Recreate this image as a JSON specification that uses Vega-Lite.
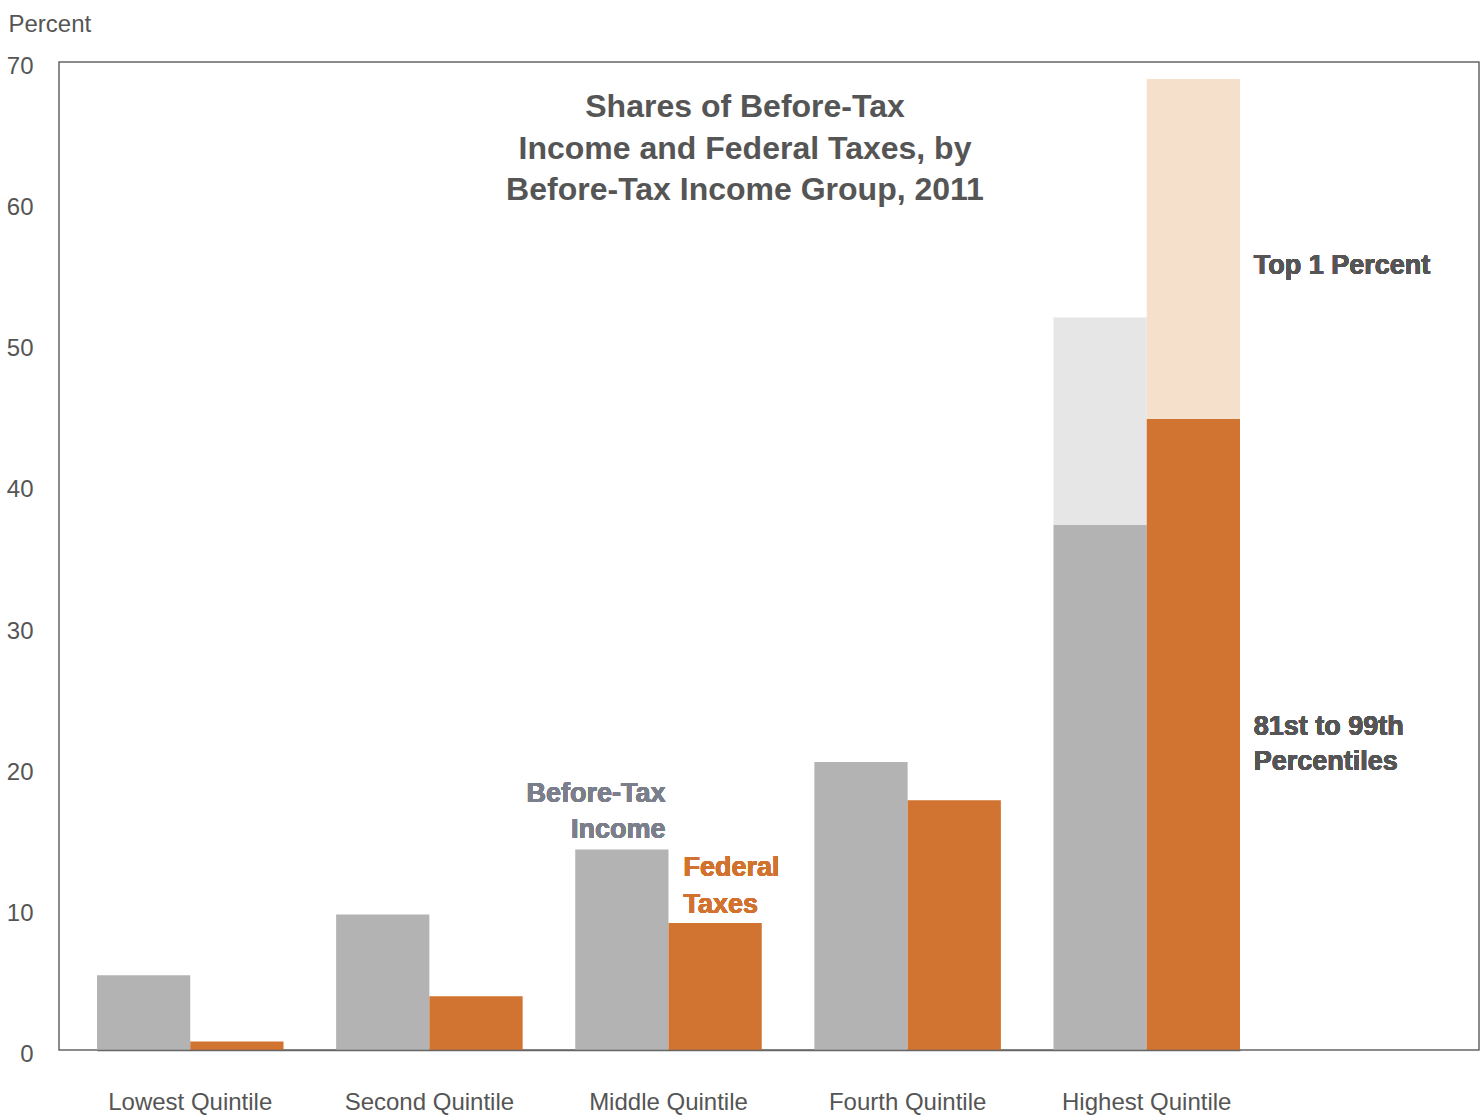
{
  "$schema": "https://vega.github.io/schema/vega-lite/v6.json",
  "width": 1420,
  "height": 988,
  "autosize": {"type": "none"},
  "padding": {"left": 59, "top": 62, "right": 4, "bottom": 67},
  "background": "white",
  "title": {
    "text": ["Shares of Before-Tax", "Income and Federal Taxes, by", "Before-Tax Income Group, 2011"],
    "orient": "top",
    "anchor": "middle",
    "frame": "group",
    "offset": -195,
    "dx": -24,
    "font": "Liberation Sans",
    "fontSize": 32,
    "fontWeight": "bold",
    "color": "#555555",
    "lineHeight": 41.5
  },
  "data": {
    "values": [
      {"group": "Lowest Quintile", "measure": "Before-Tax Income", "part": "Quintile", "series": "Income", "share": 5.3},
      {"group": "Lowest Quintile", "measure": "Federal Taxes", "part": "Quintile", "series": "Taxes", "share": 0.6},
      {"group": "Second Quintile", "measure": "Before-Tax Income", "part": "Quintile", "series": "Income", "share": 9.6},
      {"group": "Second Quintile", "measure": "Federal Taxes", "part": "Quintile", "series": "Taxes", "share": 3.8},
      {"group": "Middle Quintile", "measure": "Before-Tax Income", "part": "Quintile", "series": "Income", "share": 14.2},
      {"group": "Middle Quintile", "measure": "Federal Taxes", "part": "Quintile", "series": "Taxes", "share": 9.0},
      {"group": "Fourth Quintile", "measure": "Before-Tax Income", "part": "Quintile", "series": "Income", "share": 20.4},
      {"group": "Fourth Quintile", "measure": "Federal Taxes", "part": "Quintile", "series": "Taxes", "share": 17.7},
      {"group": "Highest Quintile", "measure": "Before-Tax Income", "part": "81st to 99th Percentiles", "series": "Income", "share": 37.2},
      {"group": "Highest Quintile", "measure": "Before-Tax Income", "part": "Top 1 Percent", "series": "Income, Top 1 Percent", "share": 14.7},
      {"group": "Highest Quintile", "measure": "Federal Taxes", "part": "81st to 99th Percentiles", "series": "Taxes", "share": 44.7},
      {"group": "Highest Quintile", "measure": "Federal Taxes", "part": "Top 1 Percent", "series": "Taxes, Top 1 Percent", "share": 24.1}
    ]
  },
  "config": {
    "view": {"stroke": "#666666", "strokeWidth": 1.5},
    "font": "Liberation Sans"
  },
  "layer": [
    {
      "mark": {"type": "bar"},
      "encoding": {
        "x": {
          "field": "group",
          "type": "nominal",
          "scale": {
            "domain": ["Lowest Quintile", "Second Quintile", "Middle Quintile", "Fourth Quintile", "Highest Quintile"],
            "range": [38, 1181],
            "paddingInner": 0.22,
            "paddingOuter": 0
          },
          "axis": {
            "title": null,
            "labelAngle": 0,
            "labelFontSize": 24,
            "labelFont": "Liberation Sans",
            "labelColor": "#555555",
            "labelPadding": 40,
            "ticks": false,
            "tickSize": 0,
            "domain": true,
            "domainColor": "#666666",
            "domainWidth": 1.5,
            "zindex": 1
          }
        },
        "xOffset": {
          "field": "measure",
          "type": "nominal",
          "scale": {"domain": ["Before-Tax Income", "Federal Taxes"], "paddingInner": 0, "paddingOuter": 0}
        },
        "y": {
          "field": "share",
          "type": "quantitative",
          "stack": "zero",
          "scale": {"domain": [0, 70], "nice": false},
          "axis": {
            "values": [0, 10, 20, 30, 40, 50, 60, 70],
            "grid": false,
            "ticks": false,
            "tickSize": 0,
            "domain": false,
            "labelFontSize": 24,
            "labelFont": "Liberation Sans",
            "labelColor": "#555555",
            "labelPadding": 26,
            "labelAlign": "right",
            "labelBaseline": "middle",
            "labelOffset": 4.5,
            "labelFlush": false,
            "labelOverlap": false,
            "title": "Percent",
            "titleAngle": 0,
            "titleAlign": "left",
            "titleBaseline": "alphabetic",
            "titleX": -51,
            "titleY": -31,
            "titleFontSize": 24,
            "titleFontWeight": "normal",
            "titleFont": "Liberation Sans",
            "titleColor": "#555555"
          }
        },
        "color": {
          "field": "series",
          "type": "nominal",
          "scale": {
            "domain": ["Income", "Income, Top 1 Percent", "Taxes", "Taxes, Top 1 Percent"],
            "range": ["#b3b3b3", "#e6e6e6", "#d17331", "#f5e0cc"]
          },
          "legend": null
        },
        "order": {"field": "part", "sort": "ascending"}
      }
    },
    {
      "mark": {"type": "text", "text": ["Before-Tax", "Income"], "align": "right", "baseline": "top", "dx": -3, "fontSize": 27, "fontWeight": "bold", "color": "#7b7f8c", "lineHeight": 36.6},
      "encoding": {"x": {"datum": "Middle Quintile"}, "y": {"datum": 19.07}}
    },
    {
      "mark": {"type": "text", "text": ["Federal", "Taxes"], "align": "left", "baseline": "top", "dx": 15, "fontSize": 27, "fontWeight": "bold", "color": "#d2722f", "lineHeight": 36.6},
      "encoding": {"x": {"datum": "Middle Quintile"}, "y": {"datum": 13.8}}
    },
    {
      "mark": {"type": "text", "text": "Top 1 Percent", "align": "left", "baseline": "top", "dx": 107, "fontSize": 27, "fontWeight": "bold", "color": "#555555"},
      "encoding": {"x": {"datum": "Highest Quintile"}, "y": {"datum": 56.5}}
    },
    {
      "mark": {"type": "text", "text": ["81st to 99th", "Percentiles"], "align": "left", "baseline": "top", "dx": 107, "fontSize": 27, "fontWeight": "bold", "color": "#555555", "lineHeight": 35},
      "encoding": {"x": {"datum": "Highest Quintile"}, "y": {"datum": 23.8}}
    }
  ]
}
